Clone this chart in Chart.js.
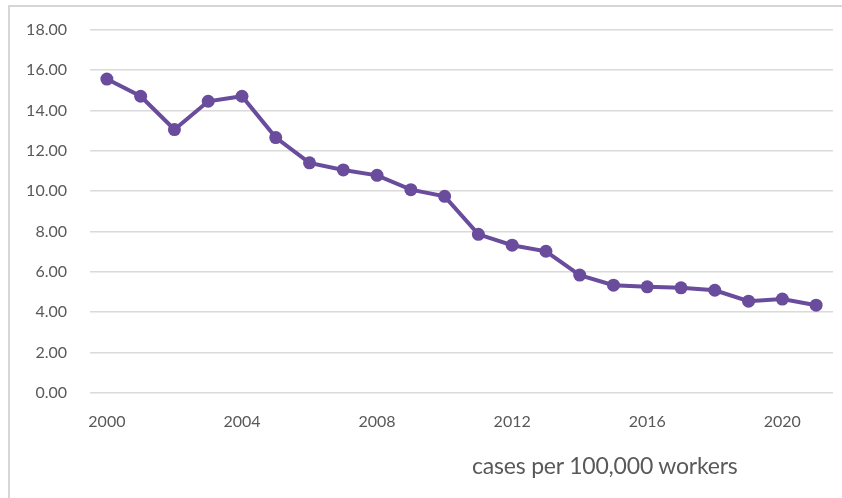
<!DOCTYPE html>
<html>
<head>
<meta charset="utf-8">
<title>Cases per 100,000 workers</title>
<script src="https://cdn.jsdelivr.net/npm/chart.js@4/dist/chart.umd.min.js"></script>
<style>
  html, body { margin: 0; padding: 0; background: #fff; overflow: hidden; }
  #wrap { position: relative; width: 842px; height: 498px; overflow: hidden; }
  #frame {
    position: absolute; left: 8px; top: 5px; width: 900px; height: 600px;
    border: 2px solid #d6d6d6; box-sizing: border-box;
  }
  #chart { position: absolute; left: 0; top: -3px; }
  #unit {
    position: absolute; left: 472px; top: 451px;
    font-family: Lato, "Open Sans", sans-serif; font-size: 23px; color: #595959;
    line-height: 28px; white-space: nowrap; letter-spacing: -0.2px;
  }
</style>
</head>
<body>
<div id="wrap">
  <div id="frame"></div>
  <canvas id="chart" width="842" height="498"></canvas>
  <div id="unit">cases per 100,000 workers</div>
</div>
<script>
  // Years along the x axis
  const years = [2000, 2001, 2002, 2003, 2004, 2005, 2006, 2007, 2008, 2009, 2010,
                 2011, 2012, 2013, 2014, 2015, 2016, 2017, 2018, 2019, 2020, 2021];
  // Cases per 100,000 workers
  const rates = [15.55, 14.7, 13.05, 14.45, 14.7, 12.65, 11.4, 11.05, 10.78, 10.07, 9.74,
                 7.86, 7.32, 7.02, 5.84, 5.34, 5.26, 5.21, 5.09, 4.55, 4.65, 4.35];
  // Only every fourth year carries a label
  const shownYears = [2000, 2004, 2008, 2012, 2016, 2020];

  const purple = '#6a4c9c';
  const textGray = '#595959';
  const font = { family: 'Lato, "Open Sans", sans-serif', size: 16 };

  const ctx = document.getElementById('chart').getContext('2d');
  new Chart(ctx, {
    type: 'line',
    data: {
      labels: years.map(String),
      datasets: [{
        data: rates,
        borderColor: purple,
        backgroundColor: purple,
        borderWidth: 4,
        pointRadius: 6.5,
        pointBorderWidth: 0,
        pointBackgroundColor: purple,
        tension: 0
      }]
    },
    options: {
      responsive: false,
      animation: false,
      layout: { padding: { top: 6, right: 9, left: 0, bottom: 0 } },
      plugins: {
        legend: { display: false },
        tooltip: { enabled: false }
      },
      scales: {
        x: {
          offset: true,
          grid: { display: false, drawTicks: false },
          border: { display: false },
          ticks: {
            autoSkip: false,
            maxRotation: 0,
            padding: 19,
            color: textGray,
            font: font,
            callback: function (value) {
              const label = this.getLabelForValue(value);
              return shownYears.includes(Number(label)) ? label : '';
            }
          },
          afterFit: function (scale) { scale.height = 102; }
        },
        y: {
          min: 0,
          max: 18,
          grid: { color: '#dadada', lineWidth: 1.5, drawTicks: false },
          border: { display: false },
          ticks: {
            stepSize: 2,
            padding: 23,
            color: textGray,
            font: font,
            callback: value => value.toFixed(2)
          },
          afterFit: function (scale) { scale.width = 90; }
        }
      }
    }
  });
</script>
</body>
</html>
